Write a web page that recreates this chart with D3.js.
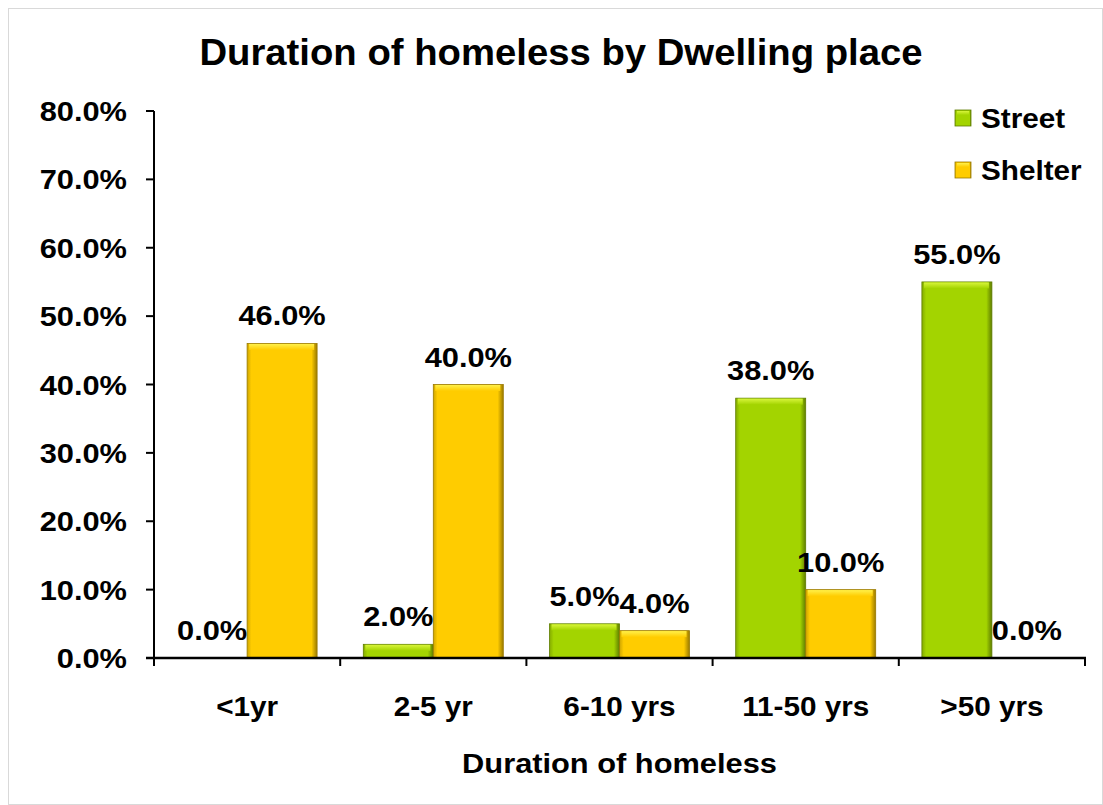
<!DOCTYPE html>
<html>
<head>
<meta charset="utf-8">
<script src="https://cdn.jsdelivr.net/npm/d3@7"></script>
<style>
  body { margin: 0; background: #fff; }
  text { font-family: "Liberation Sans", Arial, sans-serif; font-weight: bold; fill: #000; }
</style>
</head>
<body>
<svg id="chart" width="1103" height="805"></svg>
<script>
const categories = ["<1yr", "2-5 yr", "6-10 yrs", "11-50 yrs", ">50 yrs"];
const seriesNames = ["Street", "Shelter"];
const streetValues = [0.0, 2.0, 5.0, 38.0, 55.0];
const shelterValues = [46.0, 40.0, 4.0, 10.0, 0.0];
const yTicks = [0, 10, 20, 30, 40, 50, 60, 70, 80];
const titleText = "Duration of homeless by Dwelling place";
const xAxisTitle = "Duration of homeless";

(function () {
const svg = d3.select("#chart");
const SX = 1.1; // horizontal stretch of text as in reference

const colors = {
  Street: { base: "#a3d400", light: "#d8f53a", dark: "#5f7d00" },
  Shelter: { base: "#ffcc00", light: "#fff04a", dark: "#9a7a00" }
};

const defs = svg.append("defs");
seriesNames.forEach(s => {
  const c = colors[s];
  const g = defs.append("linearGradient").attr("id", "h-" + s).attr("x1", 0).attr("x2", 1).attr("y1", 0).attr("y2", 0);
  g.append("stop").attr("offset", "0%").attr("stop-color", d3.color(c.base).darker(0.6));
  g.append("stop").attr("offset", "6%").attr("stop-color", c.base);
  g.append("stop").attr("offset", "92%").attr("stop-color", c.base);
  g.append("stop").attr("offset", "100%").attr("stop-color", c.dark);
  const gv = defs.append("linearGradient").attr("id", "v-" + s).attr("x1", 0).attr("x2", 0).attr("y1", 0).attr("y2", 1);
  gv.append("stop").attr("offset", "0%").attr("stop-color", c.light);
  gv.append("stop").attr("offset", "100%").attr("stop-color", c.base);
});

// outer border
svg.append("rect").attr("x", 8.5).attr("y", 8.5).attr("width", 1094).attr("height", 796)
  .attr("fill", "none").attr("stroke", "#d9d9d9").attr("stroke-width", 1);

const pLeft = 154, pRight = 1085, pTop = 111, pBottom = 658;

const x = d3.scaleBand().domain(categories).range([pLeft, pRight]).paddingInner(0).paddingOuter(0);
const xs = d3.scaleBand().domain(seriesNames).range([0, x.bandwidth()]).paddingInner(0).paddingOuter(0.33);
const y = d3.scaleLinear().domain([0, 80]).range([pBottom, pTop]);

function stretchedText(sel, tx, ty, str, size, anchor, sx) {
  return sel.append("text")
    .attr("transform", `translate(${tx},${ty}) scale(${sx || SX},1)`)
    .attr("text-anchor", anchor || "middle")
    .style("font-size", size + "px")
    .text(str);
}

// title
stretchedText(svg, 561, 65, titleText, 37, "middle", 1.035);

// bars
const data = [];
categories.forEach((c, i) => {
  data.push({ cat: c, s: "Street", v: streetValues[i] });
  data.push({ cat: c, s: "Shelter", v: shelterValues[i] });
});

const bars = svg.append("g");
data.forEach(d => {
  const bx = x(d.cat) + xs(d.s);
  const bw = xs.bandwidth();
  const by = y(d.v);
  const bh = y(0) - y(d.v);
  if (bh <= 0) return;
  const g = bars.append("g");
  g.append("rect").attr("x", bx).attr("y", by).attr("width", bw).attr("height", bh)
    .attr("fill", `url(#h-${d.s})`).attr("stroke", colors[d.s].dark).attr("stroke-width", 0.8);
  const hh = Math.min(6, bh / 2);
  g.append("rect").attr("x", bx + 2).attr("y", by + 0.5).attr("width", bw - 5).attr("height", hh)
    .attr("fill", `url(#v-${d.s})`);
});

// data labels
data.forEach(d => {
  const cx = x(d.cat) + xs(d.s) + xs.bandwidth() / 2;
  stretchedText(svg, cx, y(d.v) - 18, d.v.toFixed(1) + "%", 28);
});

// y axis
const axisG = svg.append("g");
axisG.append("line").attr("x1", pLeft).attr("x2", pLeft).attr("y1", y(80)).attr("y2", pBottom)
  .attr("stroke", "#000").attr("stroke-width", 2);
yTicks.forEach(t => {
  axisG.append("line").attr("x1", pLeft - 8).attr("x2", pLeft).attr("y1", y(t)).attr("y2", y(t))
    .attr("stroke", "#000").attr("stroke-width", 2);
  stretchedText(axisG, 127, y(t) + 10, t.toFixed(1) + "%", 28, "end");
});

// x axis
axisG.append("line").attr("x1", pLeft - 8).attr("x2", pRight + 1).attr("y1", pBottom).attr("y2", pBottom)
  .attr("stroke", "#000").attr("stroke-width", 2.5);
const bounds = categories.map(c => x(c)).concat([x.range()[1]]);
bounds.forEach(b => {
  axisG.append("line").attr("x1", b).attr("x2", b).attr("y1", pBottom).attr("y2", pBottom + 8)
    .attr("stroke", "#000").attr("stroke-width", 2);
});
categories.forEach(c => {
  stretchedText(axisG, x(c) + x.bandwidth() / 2, 716, c, 27);
});
stretchedText(svg, (pLeft + pRight) / 2, 773, xAxisTitle, 28);

// legend
const legend = svg.append("g");
seriesNames.forEach((s, i) => {
  const ly = 110 + i * 52;
  legend.append("rect").attr("x", 955).attr("y", ly).attr("width", 16).attr("height", 16)
    .attr("fill", `url(#h-${s})`).attr("stroke", colors[s].dark).attr("stroke-width", 0.8);
  legend.append("rect").attr("x", 957).attr("y", ly + 1).attr("width", 12).attr("height", 4)
    .attr("fill", `url(#v-${s})`);
  stretchedText(legend, 981, ly + 18, s, 27, "start");
});
})();
</script>
</body>
</html>
